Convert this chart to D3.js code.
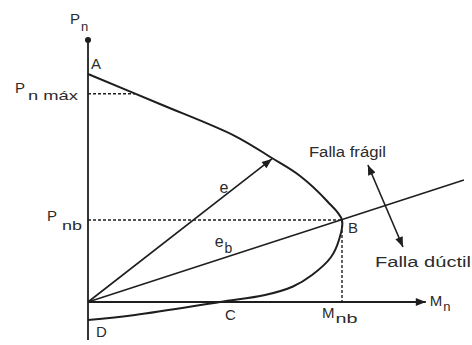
<!DOCTYPE html>
<html>
<head>
<meta charset="utf-8">
<script src="https://cdn.jsdelivr.net/npm/d3@7"></script>
<style>
  body { margin: 0; background: #fff; }
  text { font-family: "Liberation Sans", Arial, sans-serif; fill: #2b2b2b; }
</style>
</head>
<body>
<svg id="chart" width="472" height="345"></svg>
<script>
// Interaction diagram, Mn normalised by Mnb and Pn by Pnb
const curveMn = [0, 0.283, 0.579, 0.724, 0.835, 0.941, 1.0, 0.988, 0.957, 0.882, 0.807, 0.697, 0.52, 0.185, 0];
const curvePn = [2.78, 2.415, 2.024, 1.756, 1.537, 1.232, 1.0, 0.756, 0.549, 0.329, 0.189, 0.085, 0.0, -0.159, -0.22];

// named points on the curve
const pointNames = ["A", "B", "C", "D"];
const pointMn = [0, 1.0, 0.52, 0];
const pointPn = [2.78, 1.0, 0.0, -0.22];

const pnMax = 2.54;
// eccentricity vectors
const eEnd = [0.724, 1.744];
const ebEnd = [1.48, 1.488];
// failure direction arrow (fragil -> ductil)
const failMn = [1.102, 1.240];
const failPn = [1.671, 0.671];
// axis extents
const mnAxis = [0, 1.33];
const pnAxis = [-0.463, 3.195];

const svg = d3.select("#chart");
const ink = "#1e1e1e";

const x = d3.scaleLinear().domain([0, 1]).range([88, 342]);
const y = d3.scaleLinear().domain([0, 1]).range([302, 220]);

// arrowheads
const defs = svg.append("defs");
defs.append("marker")
    .attr("id", "head")
    .attr("viewBox", "0 0 10 8")
    .attr("refX", 10).attr("refY", 4)
    .attr("markerWidth", 11).attr("markerHeight", 8)
    .attr("markerUnits", "userSpaceOnUse")
    .attr("orient", "auto-start-reverse")
    .append("path").attr("d", "M0,0 L10,4 L0,8 Z").attr("fill", ink);

// axes
svg.append("line")
    .attr("x1", x(0)).attr("y1", y(pnAxis[0]))
    .attr("x2", x(0)).attr("y2", y(pnAxis[1]))
    .attr("stroke", ink).attr("stroke-width", 1.8);
svg.append("circle")
    .attr("cx", x(0)).attr("cy", y(pnAxis[1])).attr("r", 3)
    .attr("fill", ink);
svg.append("line")
    .attr("x1", x(mnAxis[0])).attr("y1", y(0))
    .attr("x2", x(mnAxis[1])).attr("y2", y(0))
    .attr("stroke", ink).attr("stroke-width", 1.8)
    .attr("marker-end", "url(#head)");

// dashed guides
const dashed = (x1, y1, x2, y2) => svg.append("line")
    .attr("x1", x1).attr("y1", y1).attr("x2", x2).attr("y2", y2)
    .attr("stroke", ink).attr("stroke-width", 1.4)
    .attr("stroke-dasharray", "3,2");

// where the upper branch reaches Pn max
let mnAtMax = 0;
for (let i = 0; i < 6; i++) {
    if (curvePn[i] >= pnMax && curvePn[i + 1] < pnMax) {
        const t = (curvePn[i] - pnMax) / (curvePn[i] - curvePn[i + 1]);
        mnAtMax = curveMn[i] + t * (curveMn[i + 1] - curveMn[i]);
    }
}
dashed(x(0), y(pnMax), x(mnAtMax), y(pnMax));
dashed(x(0), y(pointPn[1]), x(pointMn[1]), y(pointPn[1]));
dashed(x(pointMn[1]), y(pointPn[1]), x(pointMn[1]), y(0));

// the interaction curve
const curveData = curveMn.map((m, i) => [m, curvePn[i]]);
svg.append("path")
    .datum(curveData)
    .attr("d", d3.line().x(d => x(d[0])).y(d => y(d[1])).curve(d3.curveCatmullRom.alpha(0.5)))
    .attr("fill", "none").attr("stroke", ink).attr("stroke-width", 2);

// e and eb
svg.append("line")
    .attr("x1", x(0)).attr("y1", y(0))
    .attr("x2", x(eEnd[0])).attr("y2", y(eEnd[1]))
    .attr("stroke", ink).attr("stroke-width", 1.6)
    .attr("marker-end", "url(#head)");
svg.append("line")
    .attr("x1", x(0)).attr("y1", y(0))
    .attr("x2", x(ebEnd[0])).attr("y2", y(ebEnd[1]))
    .attr("stroke", ink).attr("stroke-width", 1.5);

// failure arrow
svg.append("line")
    .attr("x1", x(failMn[0])).attr("y1", y(failPn[0]))
    .attr("x2", x(failMn[1])).attr("y2", y(failPn[1]))
    .attr("stroke", ink).attr("stroke-width", 1.6)
    .attr("marker-start", "url(#head)")
    .attr("marker-end", "url(#head)");

// labels
function label(px, py, main, sub, opts = {}) {
    const t = svg.append("text")
        .attr("x", px).attr("y", py)
        .attr("font-size", opts.size || 15);
    t.append("tspan").text(main);
    if (sub) {
        const s = t.append("tspan")
            .attr("dx", opts.gap || 1).attr("dy", opts.drop || 7)
            .attr("font-size", opts.subSize || 13)
            .text(sub);
        if (opts.subLen) s.attr("textLength", opts.subLen).attr("lengthAdjust", "spacingAndGlyphs");
    }
    if (opts.len) t.attr("textLength", opts.len).attr("lengthAdjust", "spacingAndGlyphs");
    return t;
}

label(x(0) - 18, y(pnAxis[1]) - 16, "P", "n");
label(x(0) - 73, y(pnMax) - 1, "P", "n máx", { gap: 3, drop: 7, subLen: 50 });
label(x(0) - 41, y(1) + 1, "P", "nb", { gap: 5, drop: 9, subLen: 20 });
label(x(pointMn[1]) - 20, y(0) + 16, "M", "nb", { gap: 1, drop: 5, subLen: 22 });
label(x(mnAxis[1]) + 4, y(0) + 4, "M", "n", { gap: 1, drop: 5 });

const pointOffsets = [[3, -5], [6, 13], [5, 18], [8, 17]];
pointNames.forEach((n, i) => {
    label(x(pointMn[i]) + pointOffsets[i][0], y(pointPn[i]) + pointOffsets[i][1], n, null);
});

label(x(eEnd[0] * 0.72) - 1, y(eEnd[1] * 0.72) - 6, "e", null, { size: 16 });
label(x(0.55) - 13, y(0.55) - 10, "e", "b", { size: 16, gap: 0, drop: 6, subSize: 14 });

label(x(failMn[0]) - 59, y(failPn[0]) - 8, "Falla frágil", null, { size: 14, len: 77 });
label(x(failMn[1]) - 28, y(failPn[1]) + 20, "Falla dúctil", null, { size: 14, len: 96 });
</script>
</body>
</html>
